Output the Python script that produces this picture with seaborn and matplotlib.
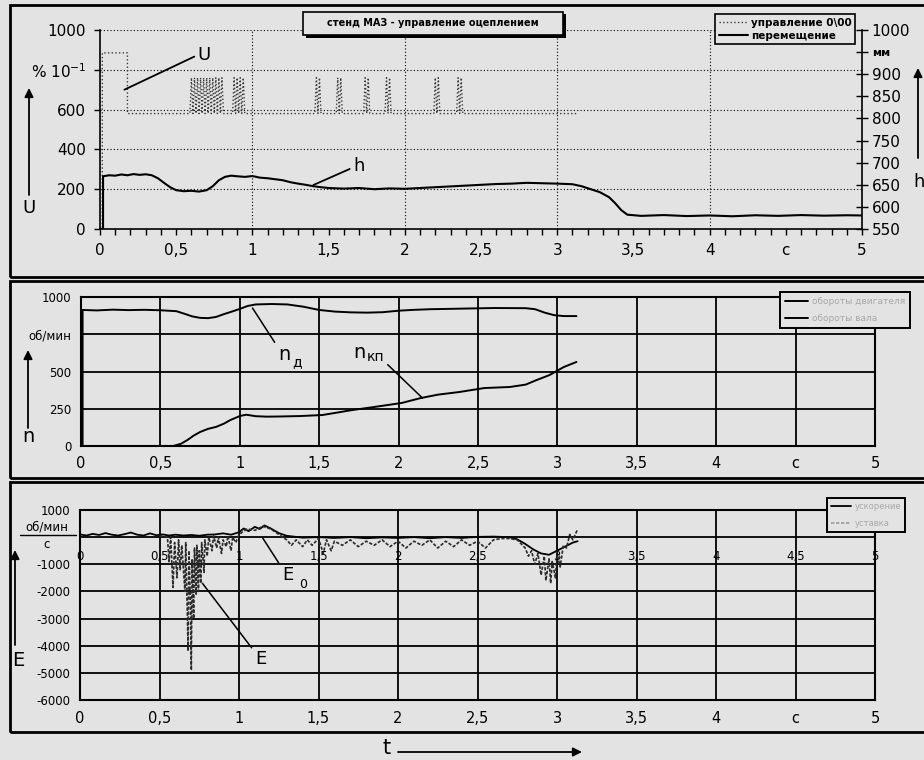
import numpy as np
import matplotlib
matplotlib.use("Agg")
import matplotlib.pyplot as plt
import seaborn as sns
from matplotlib.patches import Rectangle, FancyArrowPatch
from matplotlib.lines import Line2D

# ---------------- data ----------------
# control signal U, % * 10^-1 (left scale of the upper chart)
u_time = [0.00, 0.015, 0.015, 0.18, 0.18, 0.59,
          0.60, 0.61, 0.62, 0.63, 0.64, 0.65, 0.66, 0.67, 0.68, 0.69, 0.70,
          0.71, 0.72, 0.73, 0.74, 0.75, 0.76, 0.77, 0.78, 0.79, 0.80, 0.81,
          0.87, 0.88, 0.89, 0.90, 0.91, 0.92, 0.93, 0.94, 0.95,
          1.41, 1.42, 1.43, 1.44, 1.45,
          1.55, 1.56, 1.57, 1.58, 1.59,
          1.73, 1.74, 1.75, 1.76, 1.77,
          1.87, 1.88, 1.89, 1.90, 1.91,
          2.19, 2.20, 2.21, 2.22, 2.23,
          2.34, 2.35, 2.36, 2.37, 2.38,
          3.13]
u_value = [0, 0, 885, 885, 580, 580,
           760, 580, 760, 580, 760, 580, 760, 580, 760, 580, 760,
           580, 760, 580, 760, 580, 760, 580, 760, 580, 760, 580,
           580, 760, 580, 760, 580, 760, 580, 760, 580,
           580, 760, 580, 760, 580,
           580, 760, 580, 760, 580,
           580, 760, 580, 760, 580,
           580, 760, 580, 760, 580,
           580, 760, 580, 760, 580,
           580, 760, 580, 760, 580,
           580]

# clutch displacement h (plotted on the left scale, read on the right one in mm)
h_time = [0.00, 0.02, 0.02, 0.06, 0.10, 0.14, 0.18, 0.22, 0.26, 0.30,
          0.34, 0.38, 0.42, 0.46, 0.50, 0.55, 0.60, 0.65, 0.70, 0.74,
          0.78, 0.82, 0.86, 0.90, 0.95, 1.00, 1.05, 1.10, 1.15, 1.20,
          1.25, 1.30, 1.35, 1.40, 1.45, 1.50, 1.60, 1.70, 1.80, 1.90,
          2.00, 2.10, 2.20, 2.30, 2.40, 2.50, 2.60, 2.70, 2.80, 2.90,
          3.00, 3.10, 3.16, 3.22, 3.28, 3.34, 3.38, 3.42, 3.46, 3.55,
          3.70, 3.85, 4.00, 4.15, 4.30, 4.45, 4.60, 4.75, 4.90, 5.00]
h_value = [0, 0, 265, 270, 268, 274, 270, 276, 272, 275,
           270, 255, 232, 210, 195, 190, 192, 188, 195, 215,
           245, 262, 268, 265, 262, 266, 258, 255, 250, 245,
           235, 228, 222, 215, 210, 206, 203, 206, 200, 204,
           202, 206, 210, 214, 218, 222, 226, 228, 232, 230,
           228, 225, 215, 200, 185, 160, 130, 95, 72, 66,
           70, 65, 68, 64, 69, 66, 70, 67, 69, 68]

# engine speed n_д and gearbox shaft speed n_кп, rpm
nd_time = [0.01, 0.01, 0.10, 0.20, 0.30, 0.40, 0.50, 0.60, 0.65, 0.70,
           0.75, 0.80, 0.85, 0.90, 0.95, 1.00, 1.05, 1.10, 1.20, 1.30,
           1.40, 1.50, 1.60, 1.70, 1.80, 1.90, 2.00, 2.10, 2.20, 2.40,
           2.60, 2.80, 2.86, 2.92, 2.98, 3.04, 3.12]
nd_value = [0, 913, 910, 915, 912, 914, 911, 905, 888, 870,
            860, 858, 866, 885, 902, 920, 940, 950, 953, 950,
            935, 913, 902, 897, 895, 898, 908, 914, 918, 922,
            926, 925, 918, 895, 878, 872, 872]

nk_time = [0.00, 0.58, 0.63, 0.67, 0.71, 0.75, 0.80, 0.85, 0.90, 0.94,
           1.00, 1.04, 1.10, 1.17, 1.25, 1.38, 1.52, 1.60, 1.70, 1.80,
           1.90, 2.02, 2.14, 2.25, 2.38, 2.54, 2.70, 2.80, 2.87, 2.95,
           3.04, 3.12]
nk_value = [0, 0, 15, 40, 70, 94, 115, 128, 150, 174,
            201, 210, 200, 197, 198, 201, 208, 222, 240, 255,
            270, 289, 322, 345, 362, 389, 396, 412, 443, 476,
            530, 564]

# angular acceleration E0 (solid) and E (dotted), rpm/s
e0_time = [0.00, 0.04, 0.08, 0.12, 0.16, 0.20, 0.24, 0.28, 0.32, 0.36,
           0.40, 0.44, 0.48, 0.52, 0.56, 0.60, 0.65, 0.70, 0.75, 0.80,
           0.85, 0.90, 0.95, 1.00, 1.03, 1.06, 1.10, 1.13, 1.16, 1.20,
           1.25, 1.30, 1.40, 1.50, 1.60, 1.70, 1.80, 1.90, 2.00, 2.10,
           2.20, 2.30, 2.40, 2.50, 2.60, 2.70, 2.75, 2.80, 2.85, 2.90,
           2.95, 3.00, 3.05, 3.10, 3.13]
e0_value = [100, 60, 120, 80, 150, 90, 60, 110, 170, 90,
            60, 140, 70, 100, 60, 90, 60, 80, 50, 90,
            100, 140, 90, 180, 320, 220, 380, 300, 430, 320,
            150, 50, -20, 0, -30, 0, -40, -10, -30, 0,
            -40, 0, -30, 10, 20, 0, -80, -250, -450, -600,
            -650, -500, -350, -200, -150]

e_time = [0.50, 0.55, 0.56, 0.57, 0.585, 0.595, 0.61, 0.62, 0.63, 0.64,
          0.66, 0.665, 0.68, 0.685, 0.695, 0.70, 0.705, 0.715, 0.72, 0.73,
          0.735, 0.745, 0.75, 0.76, 0.765, 0.78, 0.785, 0.80, 0.81, 0.83,
          0.84, 0.86, 0.87, 0.89, 0.90, 0.92, 0.93, 0.95, 0.96, 0.98,
          1.00, 1.05, 1.10, 1.15, 1.20, 1.25, 1.30, 1.33, 1.36, 1.40,
          1.43, 1.46, 1.50, 1.53, 1.55, 1.58, 1.60, 1.65, 1.70, 1.75,
          1.80, 1.85, 1.90, 1.95, 2.00, 2.05, 2.10, 2.15, 2.20, 2.25,
          2.30, 2.35, 2.40, 2.45, 2.50, 2.55, 2.60, 2.65, 2.70, 2.75,
          2.80, 2.82, 2.84, 2.86, 2.88, 2.90, 2.92, 2.93, 2.95, 2.96,
          2.97, 2.99, 3.00, 3.02, 3.04, 3.06, 3.08, 3.10, 3.13]
e_value = [50, 0, -900, 0, -1850, -200, -1500, -100, -1200, -300,
           -2000, -200, -4200, -500, -2500, -4900, -800, -3000, -400, -2100,
           -300, -2000, -500, -1700, -200, -1300, -100, -700, 0, -500,
           50, -400, 0, -600, -100, -350, 50, -500, 0, -200,
           100, 300, 250, 400, 300, 100, -100, -300, -100, -350,
           -100, -300, -50, -600, -100, -500, -150, -300, -100, -350,
           -150, -300, -100, -350, -150, -400, -150, -300, -100, -400,
           -150, -350, -100, -300, -150, -400, -100, -50, -50, -100,
           -400, -700, -500, -1000, -600, -1400, -700, -1600, -800, -1700,
           -900, -1500, -600, -1100, -300, -400, 100, -100, 300]

# tick labels
time_ticks = [0, 0.5, 1, 1.5, 2, 2.5, 3, 3.5, 4, 4.5, 5]
time_labels = ["0", "0,5", "1", "1,5", "2", "2,5", "3", "3,5", "4", "с", "5"]
time_labels_inner = ["0", "0,5", "1", "1,5", "2", "2,5", "3", "3,5", "4", "4,5", "5"]
u_ticks = [0, 200, 400, 600, 800, 1000]
u_labels = ["0", "200", "400", "600", "% 10$^{-1}$", "1000"]
h_ticks = [550, 600, 650, 700, 750, 800, 850, 900, 950, 1000]
h_labels = ["550", "600", "650", "700", "750", "800", "850", "900", "мм", "1000"]
n_ticks = [0, 250, 500, 750, 1000]
n_labels = ["0", "250", "500", "об/мин", "1000"]
e_ticks = [-6000, -5000, -4000, -3000, -2000, -1000, 0, 1000]
e_labels = ["-6000", "-5000", "-4000", "-3000", "-2000", "-1000", "", "1000"]

# ---------------- styling ----------------
sns.set_theme(style="white")
plt.rcParams["font.family"] = ["DejaVu Sans"]
plt.rcParams["axes.unicode_minus"] = False
for key in ("text.color", "axes.labelcolor", "xtick.color", "ytick.color"):
    plt.rcParams[key] = "black"
BG = "#e3e3e3"
INK = "black"

W, H = 924, 760
fig = plt.figure(figsize=(W / 100, H / 100), dpi=100, facecolor=BG)


def px_box(x0, y0, x1, y1):
    return [x0 / W, 1 - y1 / H, (x1 - x0) / W, (y1 - y0) / H]


def fx(x):
    return x / W


def fy(y):
    return 1 - y / H


def frame(x0, y0, x1, y1, lw=2.0):
    fig.add_artist(Rectangle((fx(x0), fy(y1)), (x1 - x0) / W, (y1 - y0) / H,
                             transform=fig.transFigure, fill=False,
                             ec=INK, lw=lw))


def arrow(x0, y0, x1, y1):
    fig.add_artist(FancyArrowPatch((fx(x0), fy(y0)), (fx(x1), fy(y1)),
                                   transform=fig.transFigure,
                                   arrowstyle="-|>", mutation_scale=13,
                                   color=INK, lw=1.3, shrinkA=0, shrinkB=0))


# chart frames
frame(10, 5, 935, 277)
frame(10, 281, 935, 478)
frame(10, 482, 935, 732)

# ================= upper chart: U and h =================
ax1 = fig.add_axes(px_box(100, 30, 862, 229))
ax1.set_facecolor("none")
sns.lineplot(x=u_time, y=u_value, ax=ax1, estimator=None, sort=False,
             color="#3a3a3a", lw=1.0, linestyle=":", label="управление 0\\00")
sns.lineplot(x=h_time, y=h_value, ax=ax1, estimator=None, sort=False,
             color=INK, lw=1.5, label="перемещение")
ax1.set_xlim(0, 5)
ax1.set_ylim(0, 1000)
ax1.set_xticks(time_ticks)
ax1.set_xticklabels(time_labels)
ax1.set_xticks(np.arange(0, 5.01, 0.1), minor=True)
ax1.set_yticks(u_ticks)
ax1.set_yticklabels(u_labels)
ax1.tick_params(axis="x", which="both", direction="out", length=4, width=1,
                color=INK, labelsize=11, pad=6, bottom=True)
ax1.tick_params(axis="y", direction="out", length=4, width=1, color=INK,
                labelsize=11, pad=6, left=True)
ax1.set_xlabel("")
ax1.set_ylabel("")
for s in ("top", "right"):
    ax1.spines[s].set_visible(False)
for s in ("left", "bottom"):
    ax1.spines[s].set_color(INK)
    ax1.spines[s].set_linewidth(1.2)
ax1.grid(False)
for yv in u_ticks[1:]:
    ax1.axhline(yv, color=INK, lw=0.8, ls=(0, (1, 2)), zorder=0)
for xv in (1, 2, 3, 4):
    ax1.axvline(xv, color=INK, lw=0.8, ls=(0, (1, 2)), zorder=0)

ax1r = ax1.twinx()
ax1r.set_ylim(550, 1000)
ax1r.set_yticks(h_ticks)
ax1r.set_yticklabels(h_labels)
ax1r.tick_params(axis="y", direction="inout", length=8, width=1, color=INK,
                 labelsize=11, pad=3, right=True)
for lbl in ax1r.get_yticklabels():
    if lbl.get_text() == "мм":
        lbl.set_fontsize(8)
        lbl.set_fontweight("bold")
for s in ("top", "left", "bottom"):
    ax1r.spines[s].set_visible(False)
ax1r.spines["right"].set_color(INK)
ax1r.spines["right"].set_linewidth(1.2)
ax1r.grid(False)

leg1 = ax1.legend(loc="upper left", bbox_to_anchor=(fx(715), fy(14)),
                  bbox_transform=fig.transFigure, fontsize=7.5, frameon=True,
                  fancybox=False, edgecolor=INK, facecolor=BG, framealpha=1,
                  borderpad=0.35, handlelength=2.8, handletextpad=0.3,
                  labelspacing=0.3, borderaxespad=0)
leg1.get_frame().set_linewidth(1.2)
for t in leg1.get_texts():
    t.set_fontweight("bold")

# chart title box with drop shadow
fig.add_artist(Rectangle((fx(306), fy(38)), 260 / W, 24 / H,
                         transform=fig.transFigure, fc=INK, ec=INK, lw=0))
fig.add_artist(Rectangle((fx(303), fy(35)), 260 / W, 23 / H,
                         transform=fig.transFigure, fc=BG, ec=INK, lw=1.2))
fig.text(fx(433), fy(23.5), "стенд МАЗ - управление оцеплением",
         ha="center", va="center", fontsize=7, fontweight="bold")

ax1.annotate("U", xy=(0.16, 700), xytext=(0.64, 874), textcoords="data",
             fontsize=13, ha="left", va="center",
             arrowprops=dict(arrowstyle="-", color=INK, lw=1.3,
                             shrinkA=0, shrinkB=0, relpos=(0, 0.5)))
ax1.annotate("h", xy=(1.40, 221), xytext=(1.66, 318), textcoords="data",
             fontsize=13, ha="left", va="center",
             arrowprops=dict(arrowstyle="-", color=INK, lw=1.3,
                             shrinkA=0, shrinkB=0, relpos=(0, 0.4)))

arrow(29, 195, 29, 88)
fig.text(fx(29), fy(208), "U", fontsize=13, ha="center", va="center")
arrow(918, 158, 918, 68)
fig.text(fx(919), fy(182), "h", fontsize=13, ha="center", va="center")

# ================= middle chart: speeds =================
ax2 = fig.add_axes(px_box(81, 297, 875, 446))
ax2.set_facecolor("none")
sns.lineplot(x=nd_time, y=nd_value, ax=ax2, estimator=None, sort=False,
             color=INK, lw=1.4, label="обороты двигателя")
sns.lineplot(x=nk_time, y=nk_value, ax=ax2, estimator=None, sort=False,
             color=INK, lw=1.4, label="обороты вала")
ax2.set_xlim(0, 5)
ax2.set_ylim(0, 1000)
ax2.set_xticks(time_ticks)
ax2.set_xticklabels(time_labels)
ax2.set_yticks(n_ticks)
ax2.set_yticklabels(n_labels)
ax2.tick_params(axis="x", length=0, labelsize=10.5, pad=7)
ax2.tick_params(axis="y", length=0, labelsize=8.5, pad=7)
ax2.set_xlabel("")
ax2.set_ylabel("")
ax2.grid(True, color=INK, lw=1.3, ls="-")
for s in ax2.spines.values():
    s.set_color(INK)
    s.set_linewidth(1.5)

leg2 = ax2.legend(loc="upper left", bbox_to_anchor=(fx(780), fy(292)),
                  bbox_transform=fig.transFigure, fontsize=6.5, frameon=True,
                  fancybox=False, edgecolor=INK, facecolor=BG, framealpha=1,
                  borderpad=0.55, handlelength=2.6, handletextpad=0.4,
                  labelspacing=0.9, borderaxespad=0, labelcolor="#a8a8a8")
leg2.get_frame().set_linewidth(1.4)

ax2.annotate("n", xy=(1.08, 926), xytext=(1.24, 611), textcoords="data",
             fontsize=14, ha="left", va="center",
             arrowprops=dict(arrowstyle="-", color=INK, lw=1.1,
                             shrinkA=0, shrinkB=0, relpos=(0.05, 0.85)))
fig.text(fx(292), fy(362), "д", fontsize=10, ha="left", va="center")
fig.text(fx(353), fy(352), "n", fontsize=14, ha="left", va="center")
ax2.annotate("кп", xy=(2.15, 322), xytext=(1.80, 595), textcoords="data",
             fontsize=10, ha="left", va="center",
             arrowprops=dict(arrowstyle="-", color=INK, lw=1.1,
                             shrinkA=0, shrinkB=0, relpos=(1.0, 0.2)))

arrow(28, 428, 28, 350)
fig.text(fx(28), fy(437), "n", fontsize=14, ha="center", va="center")

# ================= lower chart: accelerations =================
ax3 = fig.add_axes(px_box(80, 510, 875, 700))
ax3.set_facecolor("none")
sns.lineplot(x=e0_time, y=e0_value, ax=ax3, estimator=None, sort=False,
             color=INK, lw=1.3, label="ускорение")
sns.lineplot(x=e_time, y=e_value, ax=ax3, estimator=None, sort=False,
             color="#2b2b2b", lw=1.2, linestyle=(0, (2, 1)), label="уставка")
ax3.set_xlim(0, 5)
ax3.set_ylim(-6000, 1000)
ax3.set_xticks(time_ticks)
ax3.set_xticklabels(time_labels)
ax3.set_yticks(e_ticks)
ax3.set_yticklabels(e_labels)
ax3.tick_params(axis="x", length=0, labelsize=10.5, pad=8)
ax3.tick_params(axis="y", length=0, labelsize=8.5, pad=7)
ax3.set_xlabel("")
ax3.set_ylabel("")
ax3.grid(True, color=INK, lw=1.3, ls="-")
for s in ax3.spines.values():
    s.set_color(INK)
    s.set_linewidth(1.5)
# category labels drawn next to the zero line
for xv, lbl in zip(time_ticks, time_labels_inner):
    ax3.text(xv, -720, lbl, ha="center", va="center", fontsize=8.5)

leg3 = ax3.legend(loc="upper left", bbox_to_anchor=(fx(827), fy(498)),
                  bbox_transform=fig.transFigure, fontsize=6, frameon=True,
                  fancybox=False, edgecolor=INK, facecolor=BG, framealpha=1,
                  borderpad=0.5, handlelength=2.4, handletextpad=0.4,
                  labelspacing=0.9, borderaxespad=0, labelcolor="#a8a8a8")
leg3.get_frame().set_linewidth(1.4)
leg3.get_lines()[1].set_color("#9a9a9a")

ax3.annotate("E", xy=(1.15, -40), xytext=(1.27, -1400), textcoords="data",
             fontsize=13, ha="left", va="center",
             arrowprops=dict(arrowstyle="-", color=INK, lw=1.1,
                             shrinkA=0, shrinkB=0, relpos=(0.0, 0.9)))
fig.text(fx(299), fy(585), "0", fontsize=9, ha="left", va="center")
ax3.annotate("E", xy=(0.77, -1700), xytext=(1.10, -4500), textcoords="data",
             fontsize=13, ha="left", va="center",
             arrowprops=dict(arrowstyle="-", color=INK, lw=1.1,
                             shrinkA=0, shrinkB=0, relpos=(0.0, 0.9)))

# unit fraction at the zero mark
fig.text(fx(47), fy(527), "об/мин", fontsize=8.5, ha="center", va="center")
fig.add_artist(Line2D([fx(20), fx(76)], [fy(535), fy(535)],
                      transform=fig.transFigure, color=INK, lw=1.0))
fig.text(fx(47), fy(545), "с", fontsize=8.5, ha="center", va="center")

arrow(15, 645, 15, 550)
fig.text(fx(18), fy(660), "E", fontsize=14, ha="center", va="center")

# time axis arrow under the charts
fig.text(fx(387), fy(748), "t", fontsize=15, ha="center", va="center")
arrow(398, 752, 582, 752)

fig.savefig("out.png", dpi=100, facecolor=BG)
